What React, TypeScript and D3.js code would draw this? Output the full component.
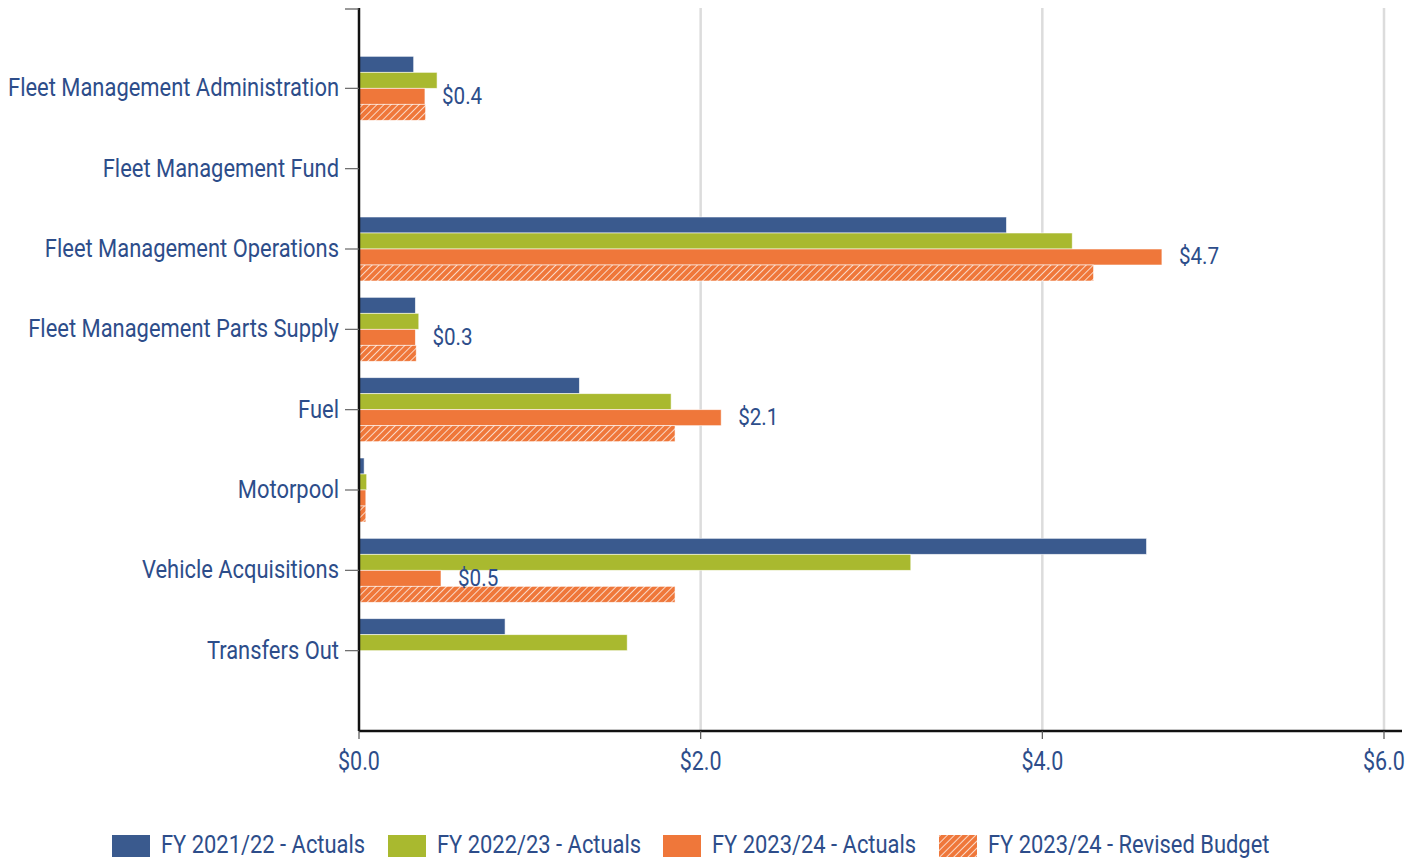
import React from "react";
import * as d3 from "d3";

const categories = [
  "Fleet Management Administration",
  "Fleet Management Fund",
  "Fleet Management Operations",
  "Fleet Management Parts Supply",
  "Fuel",
  "Motorpool",
  "Vehicle Acquisitions",
  "Transfers Out",
];

const seriesNames = [
  "FY 2021/22 - Actuals",
  "FY 2022/23 - Actuals",
  "FY 2023/24 - Actuals",
  "FY 2023/24 - Revised Budget",
];

const fy2122Actuals = [0.32, 0, 3.79, 0.33, 1.29, 0.03, 4.61, 0.855];
const fy2223Actuals = [0.457, 0, 4.175, 0.35, 1.827, 0.045, 3.23, 1.57];
const fy2324Actuals = [0.386, 0, 4.7, 0.33, 2.12, 0.04, 0.48, 0];
const fy2324Budget = [0.39, 0, 4.3, 0.335, 1.85, 0.04, 1.85, 0];

const xTicks = [0, 2, 4, 6];
const labelCats = [0, 2, 3, 4, 6];

const seriesValues = [fy2122Actuals, fy2223Actuals, fy2324Actuals, fy2324Budget];
const colors = ["#3a5a8e", "#a9b92f", "#ef773a", "url(#hatch)"];
const textColor = "#2d4d8a";
const FONT = "Roboto, 'Liberation Sans Narrow', sans-serif";
const SX = 0.86;

function CText(props: { x: number; y: number; size: number; anchor?: string; children: React.ReactNode }) {
  return (
    <text transform={`translate(${props.x},${props.y}) scale(${SX},1)`} dy="0.35em" fontSize={props.size}
      textAnchor={props.anchor || "start"} fill={textColor}>{props.children}</text>
  );
}

export default function App() {
  const W = 1417, H = 860;
  const left = 359, right = 1384, top = 8, bottom = 731;
  const x = d3.scaleLinear().domain([0, 6]).range([left, right]);
  const y = d3.scaleBand<string>().domain(categories).range([top, bottom]).paddingInner(0).paddingOuter(0.5);
  const sy = d3.scaleBand<string>().domain(seriesNames).range([-32, 32]);
  const fmt = (v: number) => "$" + d3.format(".1f")(v);

  const legendX = [112, 388, 663, 939];

  return (
    <svg width={W} height={H} style={{ position: "absolute", left: 0, top: 0, background: "#fff" }} fontFamily={FONT}>
      <defs>
        <pattern id="hatch" patternUnits="userSpaceOnUse" width="5" height="5" patternTransform="rotate(45)">
          <rect width="5" height="5" fill="#ef773a" />
          <line x1="0" y1="0" x2="0" y2="5" stroke="#fff" strokeWidth="1.8" opacity="0.8" />
        </pattern>
      </defs>
      {xTicks.filter((t) => t > 0).map((t) => (
        <line key={t} x1={x(t)} x2={x(t)} y1={top} y2={bottom} stroke="#dcdcdc" strokeWidth={2.5} />
      ))}
      {categories.map((c, ci) =>
        seriesNames.map((s, si) => {
          const v = seriesValues[si][ci];
          if (!v) return null;
          const cy = (y(c) as number) + y.bandwidth() / 2;
          return (
            <rect key={c + s} x={x(0)} y={cy + (sy(s) as number)} width={x(v) - x(0)} height={sy.bandwidth()}
              fill={colors[si]} stroke="#ffffff" strokeWidth={0.8} strokeOpacity={0.7} />
          );
        })
      )}
      {labelCats.map((ci) => {
        const c = categories[ci];
        const v = fy2324Actuals[ci];
        const cy = (y(c) as number) + y.bandwidth() / 2 + (sy(seriesNames[2]) as number) + sy.bandwidth() / 2;
        return <CText key={c} x={x(v) + 17} y={cy - 1} size={24}>{fmt(v)}</CText>;
      })}
      {/* y axis */}
      <line x1={left} x2={left} y1={top} y2={bottom} stroke="#111" strokeWidth={2.5} />
      <line x1={left - 14} x2={left} y1={top + 1} y2={top + 1} stroke="#555" strokeWidth={1.2} />
      {categories.map((c) => {
        const cy = (y(c) as number) + y.bandwidth() / 2;
        return (
          <g key={c}>
            <line x1={left - 14} x2={left} y1={cy} y2={cy} stroke="#666" strokeWidth={1.2} />
            <CText x={left - 20} y={cy - 1} size={25.5} anchor="end">{c}</CText>
          </g>
        );
      })}
      {/* x axis */}
      <line x1={left} x2={1402} y1={bottom} y2={bottom} stroke="#111" strokeWidth={2.5} />
      {xTicks.map((t) => (
        <g key={t}>
          <line x1={x(t)} x2={x(t)} y1={bottom} y2={bottom + 8} stroke="#555" strokeWidth={1.2} />
          <CText x={x(t)} y={761} size={25} anchor="middle">{fmt(t)}</CText>
        </g>
      ))}
      {/* legend */}
      {seriesNames.map((s, i) => (
        <g key={s}>
          <rect x={legendX[i]} y={835} width={38} height={22} fill={colors[i]} />
          <CText x={legendX[i] + 49} y={844} size={25.5}>{s}</CText>
        </g>
      ))}
    </svg>
  );
}
